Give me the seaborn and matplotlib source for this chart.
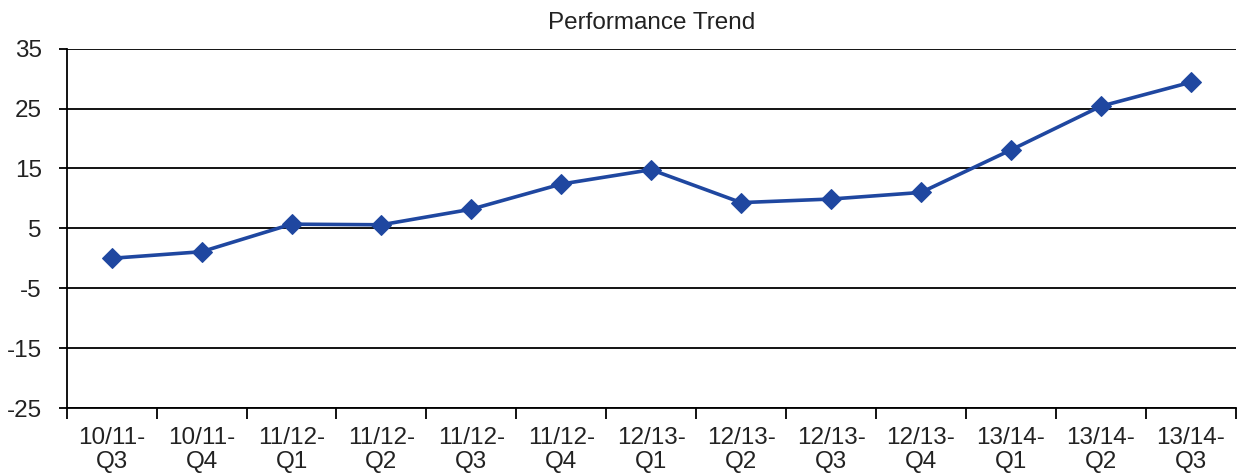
import matplotlib
matplotlib.use("Agg")
import matplotlib.pyplot as plt
import numpy as np
import pandas as pd
import seaborn as sns

# Data
quarters = ["10/11-\nQ3", "10/11-\nQ4", "11/12-\nQ1", "11/12-\nQ2", "11/12-\nQ3",
            "11/12-\nQ4", "12/13-\nQ1", "12/13-\nQ2", "12/13-\nQ3", "12/13-\nQ4",
            "13/14-\nQ1", "13/14-\nQ2", "13/14-\nQ3"]
performance = [0.0, 1.1, 5.7, 5.6, 8.2, 12.4, 14.8, 9.3, 9.9, 11.0, 18.1, 25.4, 29.4]
y_ticks = [-25, -15, -5, 5, 15, 25, 35]

df = pd.DataFrame({"quarter": quarters, "value": performance})

sns.set_style("white")
plt.rcParams["font.family"] = ["Liberation Sans", "DejaVu Sans"]
plt.rcParams["axes.unicode_minus"] = False

fig = plt.figure(figsize=(12.42, 4.73), dpi=100)
ax = fig.add_axes([0.0537, 0.1374, 0.9413, 0.7596])

sns.lineplot(data=df, x="quarter", y="value", sort=False, ax=ax,
             color="#1f47a0", linewidth=2.6, marker="D", markersize=10.5,
             markeredgecolor="#1f47a0", zorder=3)

ax.set_ylim(y_ticks[0], y_ticks[-1])
ax.set_yticks(y_ticks)
ax.yaxis.grid(True, color="black", linewidth=1.3)
ax.set_axisbelow(True)

n = len(quarters)
ax.set_xlim(-0.5, n - 0.5)
ax.set_xticks(np.arange(n))
ax.set_xticklabels(quarters, linespacing=1.1)
ax.set_xticks(np.arange(n + 1) - 0.5, minor=True)
ax.tick_params(axis="x", which="major", length=0, pad=14, labelsize=17.5, colors="#222222")
ax.tick_params(axis="x", which="minor", length=8, width=1.3, direction="out", color="black", bottom=True)
ax.tick_params(axis="y", length=6, width=1.3, direction="out", color="black", left=True,
               pad=12, labelsize=17.5, labelcolor="#222222")

for side in ["top", "right"]:
    ax.spines[side].set_visible(False)
for side in ["left", "bottom"]:
    ax.spines[side].set_color("black")
    ax.spines[side].set_linewidth(1.3)

ax.set_xlabel("")
ax.set_ylabel("")
ax.set_title("Performance Trend", fontsize=17.5, color="#222222", pad=14)

fig.savefig("out.png", dpi=100)
